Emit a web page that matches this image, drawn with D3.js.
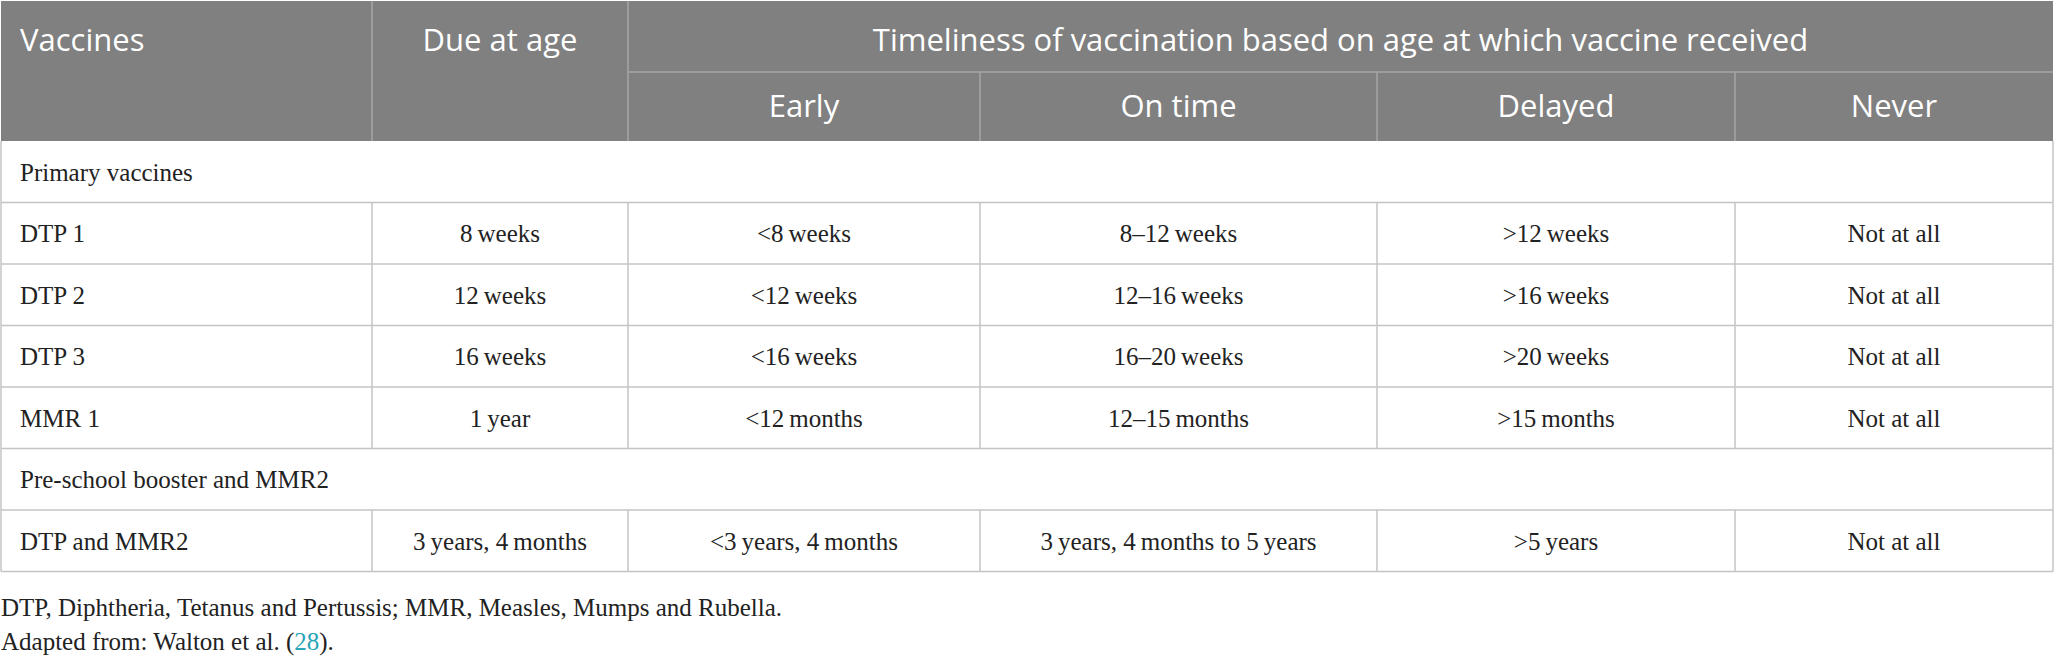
<!DOCTYPE html>
<html>
<head>
<meta charset="utf-8">
<script src="https://cdn.jsdelivr.net/npm/d3@7"></script>
<style>
  body { margin: 0; background: #fff; }
</style>
</head>
<body>
<svg id="chart" width="2055" height="660"></svg>
<script>
// table content
const headTop = ["Vaccines", "Due at age", "Timeliness of vaccination based on age at which vaccine received"];
const headSub = ["Early", "On time", "Delayed", "Never"];
const rows = [
    { group: "Primary vaccines" },
    { cells: ["DTP 1", "8\u2009weeks", "<8\u2009weeks", "8\u201312\u2009weeks", ">12\u2009weeks", "Not at all"] },
    { cells: ["DTP 2", "12\u2009weeks", "<12\u2009weeks", "12\u201316\u2009weeks", ">16\u2009weeks", "Not at all"] },
    { cells: ["DTP 3", "16\u2009weeks", "<16\u2009weeks", "16\u201320\u2009weeks", ">20\u2009weeks", "Not at all"] },
    { cells: ["MMR 1", "1\u2009year", "<12\u2009months", "12\u201315\u2009months", ">15\u2009months", "Not at all"] },
    { group: "Pre-school booster and MMR2" },
    { cells: ["DTP and MMR2", "3\u2009years, 4\u2009months", "<3\u2009years, 4\u2009months", "3\u2009years, 4\u2009months to 5\u2009years", ">5\u2009years", "Not at all"] }
];
const footnotes = ["DTP, Diphtheria, Tetanus and Pertussis; MMR, Measles, Mumps and Rubella."];
const sourceText = ["Adapted from: Walton et al. (", "28", ")."];

const colX = [1, 372, 628, 980, 1377, 1735, 2053];
const headH = 141, subY = 72, rowH = 61.5;
const svg = d3.select("#chart");
const sans = "'Open Sans', 'Noto Sans', sans-serif";
const serif = "'Liberation Serif', serif";

// header block
svg.append("rect").attr("x", colX[0]).attr("y", 1)
    .attr("width", colX[6] - colX[0]).attr("height", headH - 1)
    .attr("fill", "#808080");

const hl = svg.append("g").attr("stroke", "#a6a6a6").attr("stroke-width", 1.5);
hl.selectAll("line.v").data(colX.slice(1, 6)).enter().append("line")
    .attr("x1", d => d).attr("x2", d => d)
    .attr("y1", (d, i) => i < 2 ? 1 : subY).attr("y2", headH);
hl.append("line").attr("x1", colX[2]).attr("x2", colX[6]).attr("y1", subY).attr("y2", subY);

const ht = svg.append("g").attr("fill", "#fff").attr("font-family", sans).attr("font-size", 31);
ht.append("text").attr("x", 20).attr("y", 51).text(headTop[0]);
ht.append("text").attr("x", (colX[1] + colX[2]) / 2).attr("y", 51)
    .attr("text-anchor", "middle").text(headTop[1]);
ht.append("text").attr("x", (colX[2] + colX[6]) / 2).attr("y", 51)
    .attr("text-anchor", "middle").text(headTop[2]);
ht.selectAll("text.sub").data(headSub).enter().append("text")
    .attr("x", (d, i) => (colX[i + 2] + colX[i + 3]) / 2).attr("y", 117)
    .attr("text-anchor", "middle").text(d => d);

// body rows
const y = i => headH + i * rowH;
const body = svg.append("g");
rows.forEach((r, i) => {
    const top = y(i), bot = y(i + 1);
    body.append("line").attr("x1", colX[0]).attr("x2", colX[6]).attr("y1", bot).attr("y2", bot)
        .attr("stroke", "#c4c4c4").attr("stroke-width", 1.5);
    const xs = r.group ? [colX[0], colX[6]] : colX;
    xs.forEach(x => body.append("line").attr("x1", x).attr("x2", x).attr("y1", top).attr("y2", bot)
        .attr("stroke", "#c4c4c4").attr("stroke-width", 1.5));
    const ty = top + rowH / 2 + 9;
    if (r.group) {
        body.append("text").attr("x", 20).attr("y", ty).attr("font-family", serif)
            .attr("font-size", 25).attr("fill", "#222").text(r.group);
    } else {
        r.cells.forEach((c, j) => {
            body.append("text")
                .attr("x", j === 0 ? 20 : (colX[j] + colX[j + 1]) / 2).attr("y", ty)
                .attr("text-anchor", j === 0 ? "start" : "middle")
                .attr("font-family", serif).attr("font-size", 25).attr("fill", "#222")
                .text(c);
        });
    }
});

// notes
const notes = svg.append("g").attr("font-family", serif).attr("font-size", 25).attr("fill", "#222");
notes.append("text").attr("x", 1).attr("y", 616).text(footnotes[0]);
const src = notes.append("text").attr("x", 1).attr("y", 650);
src.append("tspan").text(sourceText[0]);
src.append("tspan").attr("fill", "#2aa5b8").text(sourceText[1]);
src.append("tspan").text(sourceText[2]);
</script>
</body>
</html>
